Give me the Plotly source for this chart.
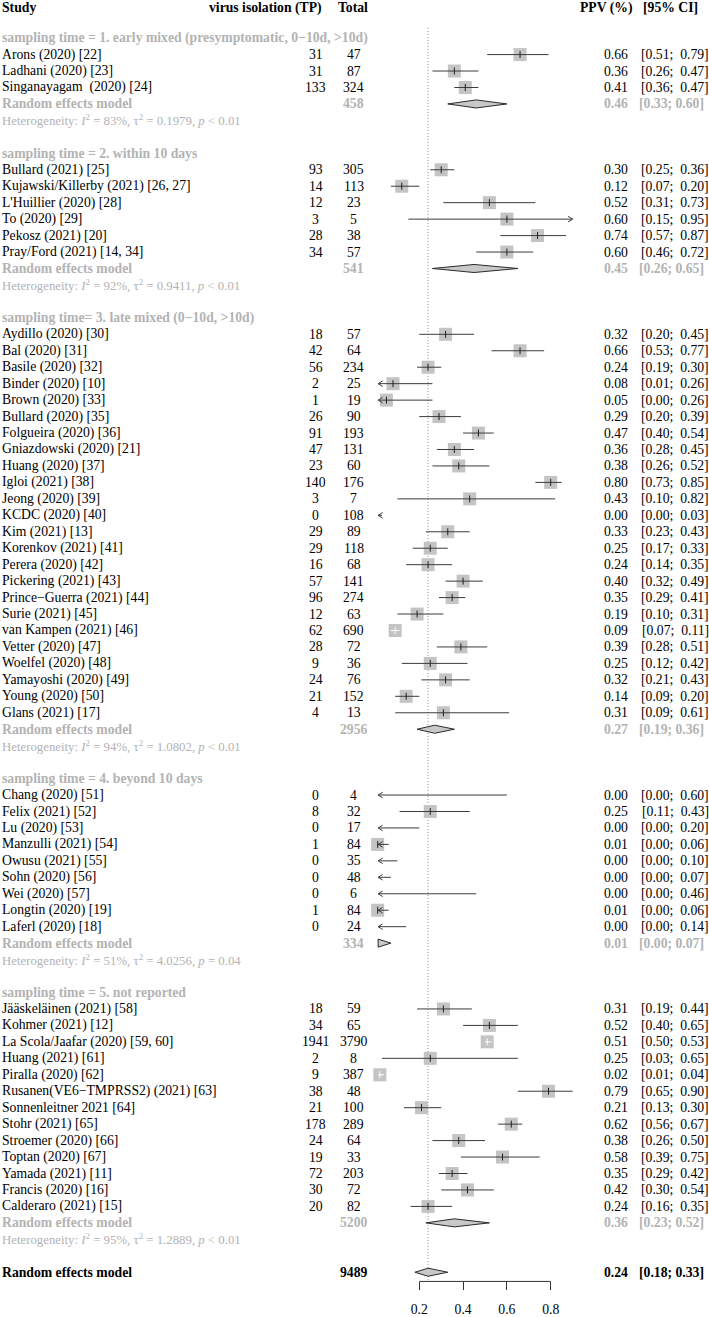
import plotly.graph_objects as go

# ---------------- data ----------------
STUDY = [
    "Arons (2020) [22]", "Ladhani (2020) [23]", "Singanayagam\u00a0 (2020) [24]",
    "Bullard (2021) [25]", "Kujawski/Killerby (2021) [26, 27]", "L'Huillier (2020) [28]",
    "To (2020) [29]", "Pekosz (2021) [20]", "Pray/Ford (2021) [14, 34]",
    "Aydillo (2020) [30]", "Bal (2020) [31]", "Basile (2020) [32]", "Binder (2020) [10]",
    "Brown (2020) [33]", "Bullard (2020) [35]", "Folgueira (2020) [36]", "Gniazdowski (2020) [21]",
    "Huang (2020) [37]", "Igloi (2021) [38]", "Jeong (2020) [39]", "KCDC (2020) [40]",
    "Kim (2021) [13]", "Korenkov (2021) [41]", "Perera (2020) [42]", "Pickering (2021) [43]",
    "Prince\u2212Guerra (2021) [44]", "Surie (2021) [45]", "van Kampen (2021) [46]",
    "Vetter (2020) [47]", "Woelfel (2020) [48]", "Yamayoshi (2020) [49]", "Young (2020) [50]",
    "Glans (2021) [17]",
    "Chang (2020) [51]", "Felix (2021) [52]", "Lu (2020) [53]", "Manzulli (2021) [54]",
    "Owusu (2021) [55]", "Sohn (2020) [56]", "Wei (2020) [57]", "Longtin (2020) [19]",
    "Laferl (2020) [18]",
    "J\u00e4\u00e4skel\u00e4inen (2021) [58]", "Kohmer (2021) [12]", "La Scola/Jaafar (2020) [59, 60]",
    "Huang (2021) [61]", "Piralla (2020) [62]", "Rusanen(VE6\u2212TMPRSS2) (2021) [63]",
    "Sonnenleitner 2021 [64]", "Stohr (2021) [65]", "Stroemer (2020) [66]", "Toptan (2020) [67]",
    "Yamada (2021) [11]", "Francis (2020) [16]", "Calderaro (2021) [15]",
]
GROUP = [0] * 3 + [1] * 6 + [2] * 24 + [3] * 9 + [4] * 13
TP = [31, 31, 133,
      93, 14, 12, 3, 28, 34,
      18, 42, 56, 2, 1, 26, 91, 47, 23, 140, 3, 0, 29, 29, 16, 57, 96, 12, 62, 28, 9, 24, 21, 4,
      0, 8, 0, 1, 0, 0, 0, 1, 0,
      18, 34, 1941, 2, 9, 38, 21, 178, 24, 19, 72, 30, 20]
TOTAL = [47, 87, 324,
         305, 113, 23, 5, 38, 57,
         57, 64, 234, 25, 19, 90, 193, 131, 60, 176, 7, 108, 89, 118, 68, 141, 274, 63, 690, 72,
         36, 76, 152, 13,
         4, 32, 17, 84, 35, 48, 6, 84, 24,
         59, 65, 3790, 8, 387, 48, 100, 289, 64, 33, 203, 72, 82]
PPV = [0.66, 0.36, 0.41,
       0.30, 0.12, 0.52, 0.60, 0.74, 0.60,
       0.32, 0.66, 0.24, 0.08, 0.05, 0.29, 0.47, 0.36, 0.38, 0.80, 0.43, 0.00, 0.33, 0.25, 0.24,
       0.40, 0.35, 0.19, 0.09, 0.39, 0.25, 0.32, 0.14, 0.31,
       0.00, 0.25, 0.00, 0.01, 0.00, 0.00, 0.00, 0.01, 0.00,
       0.31, 0.52, 0.51, 0.25, 0.02, 0.79, 0.21, 0.62, 0.38, 0.58, 0.35, 0.42, 0.24]
LOWER = [0.51, 0.26, 0.36,
         0.25, 0.07, 0.31, 0.15, 0.57, 0.46,
         0.20, 0.53, 0.19, 0.01, 0.00, 0.20, 0.40, 0.28, 0.26, 0.73, 0.10, 0.00, 0.23, 0.17, 0.14,
         0.32, 0.29, 0.10, 0.07, 0.28, 0.12, 0.21, 0.09, 0.09,
         0.00, 0.11, 0.00, 0.00, 0.00, 0.00, 0.00, 0.00, 0.00,
         0.19, 0.40, 0.50, 0.03, 0.01, 0.65, 0.13, 0.56, 0.26, 0.39, 0.29, 0.30, 0.16]
UPPER = [0.79, 0.47, 0.47,
         0.36, 0.20, 0.73, 0.95, 0.87, 0.72,
         0.45, 0.77, 0.30, 0.26, 0.26, 0.39, 0.54, 0.45, 0.52, 0.85, 0.82, 0.03, 0.43, 0.33, 0.35,
         0.49, 0.41, 0.31, 0.11, 0.51, 0.42, 0.43, 0.20, 0.61,
         0.60, 0.43, 0.20, 0.06, 0.10, 0.07, 0.46, 0.06, 0.14,
         0.44, 0.65, 0.53, 0.65, 0.04, 0.90, 0.30, 0.67, 0.50, 0.75, 0.42, 0.54, 0.35]

SECTION = [
    "sampling time = 1. early mixed (presymptomatic, 0\u221210d, &gt;10d)",
    "sampling time = 2. within 10 days",
    "sampling time= 3. late mixed (0\u221210d, &gt;10d)",
    "sampling time = 4. beyond 10 days",
    "sampling time = 5. not reported",
]
SUB_TOTAL = [458, 541, 2956, 334, 5200]
SUB_PPV = [0.46, 0.45, 0.27, 0.01, 0.36]
SUB_LOWER = [0.33, 0.26, 0.19, 0.00, 0.23]
SUB_UPPER = [0.60, 0.65, 0.36, 0.07, 0.52]
SUB_I2 = [83, 92, 94, 51, 95]
SUB_TAU2 = ["0.1979", "0.9411", "1.0802", "4.0256", "1.2889"]
SUB_P = ["&lt; 0.01", "&lt; 0.01", "&lt; 0.01", "= 0.04", "&lt; 0.01"]

OVERALL_TOTAL = 9489
OVERALL_PPV = 0.24
OVERALL_LOWER = 0.18
OVERALL_UPPER = 0.33
OVERALL_I2 = 94
OVERALL_TAU2 = "2.0861"
OVERALL_P = "&lt; 0.01"

AXIS_TICKS = [0.2, 0.4, 0.6, 0.8]
XLIM = [0.012, 0.90]

HEADERS = ["Study", "virus isolation (TP)", "Total", "PPV (%)", "[95% CI]"]

# ---------------- layout constants ----------------
W, H = 709, 1317
ROW0_PX, ROW_PX = 38.3, 16.53
X0_PX, XUNIT_PX = 375.5, 219.0
AXIS_PX = 1287.3
XR = (-0.05, 1.0)
FONT = "'Liberation Serif', 'Times New Roman', serif"
FS = 13.7
FS_HET = 12.8
GRAY = "#b3b3b3"
BLACK = "#000000"
LINE = "#3c3c3c"
SQ = "#c4c4c4"
DIA = "#c8c8c8"
SQ_SIZE = 13
DIA_H = 0.245
ARROW_DX = 4.5 / XUNIT_PX   # arrow-head arm length (pixels -> data units)
ARROW_DY = 2.8 / ROW_PX     # arrow-head arm half-height (pixels -> row units)

# ---------------- row positions ----------------
study_row = [0] * len(STUDY)
sec_row, rem_row, het_row = [], [], []
r = 0
for g in range(len(SECTION)):
    sec_row.append(r)
    r += 1
    for i, gi in enumerate(GROUP):
        if gi == g:
            study_row[i] = r
            r += 1
    rem_row.append(r)
    r += 1
    het_row.append(r)
    r += 2
overall_row = r
overall_het_row = r + 1
y_top = (0 - ROW0_PX) / ROW_PX
y_bot = (AXIS_PX - ROW0_PX) / ROW_PX

annotations = []


def px(x):
    return x / W


def txt(xpix, row, text, anchor="left", color=BLACK, bold=False, size=FS, yanchor="middle"):
    if bold:
        text = "<b>" + text + "</b>"
    annotations.append(dict(
        x=px(xpix), xref="paper", y=row, yref="y", text=text, showarrow=False,
        xanchor=anchor, yanchor=yanchor, borderpad=0, borderwidth=0,
        font=dict(family=FONT, size=size, color=color)))


def het(i2, tau2, p):
    return (f"Heterogeneity: <i>I</i><sup>2</sup> = {i2}%, \u03c4<sup>2</sup> = {tau2}, "
            f"<i>p</i> {p}")


def ci_txt(lo, hi, study=True):
    sep = ";\u00a0 " if study else "; "
    return f"[{lo:.2f}{sep}{hi:.2f}]"


# header (top of the page)
txt(2, y_top, HEADERS[0], bold=True, yanchor="top")
txt(322, y_top, HEADERS[1], anchor="right", bold=True, yanchor="top")
txt(338, y_top, HEADERS[2], bold=True, yanchor="top")
txt(580, y_top, HEADERS[3], bold=True, yanchor="top")
txt(643, y_top, HEADERS[4], bold=True, yanchor="top")

TP_X, TOT_X, PPV_X, CI_X = 315.5, 353.5, 628, 708.5

for g in range(len(SECTION)):
    txt(2, sec_row[g], SECTION[g], color=GRAY, bold=True)
    txt(2, rem_row[g], "Random effects model", color=GRAY, bold=True)
    txt(TOT_X, rem_row[g], str(SUB_TOTAL[g]), anchor="center", color=GRAY, bold=True)
    txt(PPV_X, rem_row[g], f"{SUB_PPV[g]:.2f}", anchor="right", color=GRAY, bold=True)
    txt(639, rem_row[g], ci_txt(SUB_LOWER[g], SUB_UPPER[g], False), anchor="left", color=GRAY, bold=True)
    txt(2, het_row[g], het(SUB_I2[g], SUB_TAU2[g], SUB_P[g]), color=GRAY, size=FS_HET)

for i, name in enumerate(STUDY):
    rr = study_row[i]
    txt(2, rr, name)
    txt(TP_X, rr, str(TP[i]), anchor="center")
    txt(TOT_X, rr, str(TOTAL[i]), anchor="center")
    txt(PPV_X, rr, f"{PPV[i]:.2f}", anchor="right")
    txt(CI_X, rr, ci_txt(LOWER[i], UPPER[i]), anchor="right")

txt(2, overall_row, "Random effects model", bold=True)
txt(TOT_X, overall_row, str(OVERALL_TOTAL), anchor="center", bold=True)
txt(PPV_X, overall_row, f"{OVERALL_PPV:.2f}", anchor="right", bold=True)
txt(639, overall_row, ci_txt(OVERALL_LOWER, OVERALL_UPPER, False), anchor="left", bold=True)
txt(2, overall_het_row, het(OVERALL_I2, OVERALL_TAU2, OVERALL_P), size=FS_HET)

# ---------------- marks ----------------
fig = go.Figure()

fig.add_trace(go.Scatter(x=[OVERALL_PPV, OVERALL_PPV], y=[-0.62, y_bot - 0.1],
                         mode="lines", line=dict(color="#8a8a8a", width=1, dash="1px,2px"),
                         hoverinfo="skip"))

half_sq = (SQ_SIZE / 2) / XUNIT_PX
sq_x, sq_y = [], []
dark_x, dark_y = [], []
white_x, white_y = [], []
tick_dx, tick_dy, tick_wx, tick_wy = [], [], [], []
for i in range(len(STUDY)):
    rr = study_row[i]
    est, lo, hi = PPV[i], LOWER[i], UPPER[i]
    has_box = TP[i] > 0
    inside = has_box and (est - lo) <= half_sq and (hi - est) <= half_sq
    if has_box:
        sq_x.append(est)
        sq_y.append(rr)
    lo_c, hi_c = max(lo, XLIM[0]), min(hi, XLIM[1])
    if inside:
        white_x += [lo_c, hi_c, None]
        white_y += [rr, rr, None]
        tick_wx.append(est)
        tick_wy.append(rr)
        continue
    if has_box:
        tick_dx.append(est)
        tick_dy.append(rr)
    dark_x += [lo_c, hi_c, None]
    dark_y += [rr, rr, None]
    if lo < XLIM[0]:  # left arrow head
        dark_x += [lo_c + ARROW_DX, lo_c, lo_c + ARROW_DX, None]
        dark_y += [rr - ARROW_DY, rr, rr + ARROW_DY, None]
    if hi > XLIM[1]:  # right arrow head
        dark_x += [hi_c - ARROW_DX, hi_c, hi_c - ARROW_DX, None]
        dark_y += [rr - ARROW_DY, rr, rr + ARROW_DY, None]

fig.add_trace(go.Scatter(x=sq_x, y=sq_y, mode="markers", cliponaxis=False, hoverinfo="skip",
                         marker=dict(symbol="square", size=SQ_SIZE, color=SQ, line=dict(width=0))))
fig.add_trace(go.Scatter(x=dark_x, y=dark_y, mode="lines", line=dict(color=LINE, width=1),
                         hoverinfo="skip"))
fig.add_trace(go.Scatter(x=white_x, y=white_y, mode="lines", line=dict(color="white", width=1),
                         hoverinfo="skip"))
fig.add_trace(go.Scatter(x=tick_dx, y=tick_dy, mode="markers", cliponaxis=False, hoverinfo="skip",
                         marker=dict(symbol="line-ns", size=5, line=dict(color="#202020", width=1))))
fig.add_trace(go.Scatter(x=tick_wx, y=tick_wy, mode="markers", cliponaxis=False, hoverinfo="skip",
                         marker=dict(symbol="line-ns", size=5, line=dict(color="white", width=1))))

diamonds = [(rem_row[g], SUB_PPV[g], SUB_LOWER[g], SUB_UPPER[g]) for g in range(len(SECTION))]
diamonds.append((overall_row, OVERALL_PPV, OVERALL_LOWER, OVERALL_UPPER))
for rr, est, lo, hi in diamonds:
    lo_c = max(lo, XLIM[0])
    est_c = max(est, XLIM[0])
    hi_c = min(hi, XLIM[1])
    fig.add_trace(go.Scatter(x=[lo_c, est_c, hi_c, est_c, lo_c],
                             y=[rr, rr - DIA_H, rr, rr + DIA_H, rr],
                             mode="lines", fill="toself", fillcolor=DIA,
                             line=dict(color="#2a2a2a", width=1), hoverinfo="skip"))

fig.update_layout(
    width=W, height=H, autosize=False,
    margin=dict(l=0, r=0, t=0, b=0),
    paper_bgcolor="white", plot_bgcolor="white",
    showlegend=False,
    annotations=annotations,
    xaxis=dict(domain=[(X0_PX + XR[0] * XUNIT_PX) / W, (X0_PX + XR[1] * XUNIT_PX) / W],
               range=list(XR), showgrid=False, zeroline=False, showline=False,
               tickmode="array", tickvals=AXIS_TICKS, ticktext=[f"{t:.1f}" for t in AXIS_TICKS],
               ticks="outside", ticklen=8, tickwidth=1, tickcolor="#333333",
               ticklabelstandoff=7,
               tickfont=dict(family=FONT, size=FS, color=BLACK), fixedrange=True),
    yaxis=dict(domain=[1 - AXIS_PX / H, 1], range=[y_bot, y_top], visible=False,
               showgrid=False, zeroline=False, fixedrange=True),
    shapes=[dict(type="line", xref="x", yref="paper", x0=AXIS_TICKS[0], x1=AXIS_TICKS[-1],
                 y0=1 - AXIS_PX / H, y1=1 - AXIS_PX / H, line=dict(color="#333333", width=1))],
)

fig.write_html("out.html", config={"displayModeBar": False, "staticPlot": True},
               post_script="document.body.style.margin='0';document.body.style.padding='0';")
